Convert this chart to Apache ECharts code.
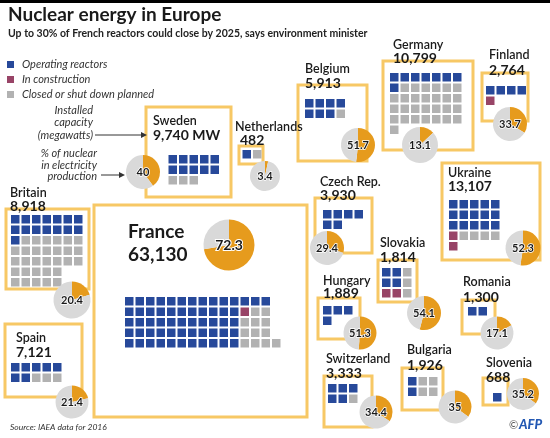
<!DOCTYPE html>
<html><head><meta charset="utf-8">
<script src="https://cdn.jsdelivr.net/npm/echarts@6/dist/echarts.min.js"></script>
<style>html,body{margin:0;padding:0;background:#fff}#c{width:550px;height:438px}</style>
</head><body><div id="c"></div>
<script>
// ---------- DATA ----------
const countries = ['Sweden','Netherlands','Belgium','Germany','Finland','Britain','France','Czech Rep.','Ukraine','Slovakia','Hungary','Romania','Spain','Switzerland','Bulgaria','Slovenia'];
const capacityMW = [9740,482,5913,10799,2764,8918,63130,3930,13107,1814,1889,1300,7121,3333,1926,688];
const nuclearShare = [40,3.4,51.7,13.1,33.7,20.4,72.3,29.4,52.3,54.1,51.3,17.1,21.4,34.4,35,35.2];
// O = operating, C = in construction, X = closed or shut down planned
const reactorGrid = [
  ['OOOOO','OOOOO','XXX'],
  ['OX'],
  ['OOOO','OOOX'],
  ['OOOOOOO','OXXXXXX','XXXXXXX','XXXXXXX','XXXXXXX','X'],
  ['OOOO','C'],
  ['OOOOOOO','OOOOOOO','OXXXXXX','XXXXXXX','XXXXXXX','XXXXX','XXXXX'],
  ['OOOOOOOOOOOOOO','OOOOOOOOOOOCXX','OOOOOOOOOOOXXX','OOOOOOOOOOOXXX','OOOOOOOOOOOXXXX'],
  ['OOOO','OO'],
  ['OOOOO','OOOOO','OOOOO','CXXXX','C'],
  ['OOX','OOX','CCX'],
  ['OOO','O'],
  ['OO'],
  ['OOOOO','OOXXX'],
  ['OOO','OOX'],
  ['OXX','OXX'],
  ['O']
];
const legendLabels = ['Operating reactors','In construction','Closed or shut down planned'];
const titleText = 'Nuclear energy in Europe';
const subtitleText = 'Up to 30% of French reactors could close by 2025, says environment minister';
const sourceText = 'Source: IAEA data for 2016';

// ---------- LAYOUT ----------
const layout = [
  {box:[146,107,85,90], name:[153,121], cap:[153,135], grid:[168.5,155], pie:[143,172,17]},
  {box:[239,146,24,18], name:[235,127], cap:[240,140], grid:[242.5,150], pie:[265,176,15]},
  {box:[298,85,69,76], name:[305,69], cap:[305,83], grid:[305,99], pie:[358,145,17]},
  {box:[383,61,90,89], name:[393,45], cap:[393,58], grid:[390,73], pie:[420,145,18]},
  {box:[482,73,46,48], name:[489,55], cap:[489,70], grid:[486,86], pie:[510,124,17]},
  {box:[6,209,83,80], name:[10,193], cap:[10,206], grid:[11,215], pie:[72,300,18.5]},
  {box:[94,205,213,212], name:[128,232], cap:[128,255], grid:[125,297], pie:[229,245,25.5], big:true},
  {box:[315,198,57,55], name:[320,182], cap:[320,195], grid:[323,210], pie:[327,248,17]},
  {box:[442,163,98,97], name:[448,173], cap:[448,186], grid:[449,200], pie:[523,248,17.5]},
  {box:[378,260,39,42], name:[380,243], cap:[380,257], grid:[382,268], pie:[424,313,17]},
  {box:[318,298,42,41], name:[323,281], cap:[323,293], grid:[323,306], pie:[360,333,16.5]},
  {box:[462,300,33,34], name:[463,282], cap:[463,297], grid:[468,307], pie:[497,333,16.5]},
  {box:[5,324,77,73], name:[16,338], cap:[16,352], grid:[11,363], pie:[72,402,16.5]},
  {box:[324,376,48,51], name:[326,359], cap:[326,373], grid:[328,384], pie:[376,412,16.5]},
  {box:[402,368,41,42], name:[407,350], cap:[407,365], grid:[408,377], pie:[455,407,16.5]},
  {box:[483,378,25,27], name:[486,363], cap:[486,377], grid:[493,393], pie:[523,394,16]}
];
const PITCH = 10.5, SQ = 8.5;
const BLUE = '#27499a', RED = '#984467', GREY = '#b2b2b2';
const ORANGE = '#e69b1d', PIEGREY = '#d9d9d9', BOXC = '#f7c865';
const FONT = 'Lato, "Noto Sans", sans-serif';

// ---------- BUILD ----------
const pts = {O:[], C:[], X:[]};
countries.forEach((c,i)=>{
  const [gx,gy] = layout[i].grid;
  reactorGrid[i].forEach((row,r)=>{
    [...row].forEach((ch,k)=>{
      if(pts[ch]) pts[ch].push([gx + k*PITCH + SQ/2, gy + r*PITCH + SQ/2]);
    });
  });
});

const fmt = n => n.toLocaleString('en-US');
const T = (text,x,y,font,opts={}) => ({type:'text', z:20, style:Object.assign({text, x, y, font, fill:'#1a1a1a', textAlign:'left', verticalAlign:'middle', textVerticalAlign:'middle'}, opts)});

const graphics = [];
graphics.push({type:'rect', z:1, shape:{x:0,y:0,width:550,height:3}, style:{fill:'#000'}});
graphics.push(T(titleText, 8, 15, 'bold 19px '+FONT));
graphics.push(T(subtitleText, 8, 34, 'bold 10.5px '+FONT, {fill:'#222'}));
[BLUE,RED,GREY].forEach((col,i)=>{
  graphics.push({type:'rect', z:1, shape:{x:7,y:61+i*15,width:7,height:7}, style:{fill:col}});
  graphics.push(T(legendLabels[i], 22, 64.5+i*15, 'italic 11px '+FONT, {fill:'#333'}));
});
// annotations
[['Installed',110],['capacity',122.5],['(megawatts)',135]].forEach(([t,y])=>graphics.push(T(t,93,y,'italic 11px '+FONT,{fill:'#333',textAlign:'right'})));
[['% of nuclear',153],['in electricity',165],['production',176.5]].forEach(([t,y])=>graphics.push(T(t,97,y,'italic 11px '+FONT,{fill:'#333',textAlign:'right'})));
graphics.push({type:'line', z:20, shape:{x1:95,y1:135,x2:142,y2:135}, style:{stroke:'#333',lineWidth:1}});
graphics.push({type:'polygon', z:20, shape:{points:[[147,135],[141,132],[141,138]]}, style:{fill:'#333'}});
graphics.push({type:'line', z:20, shape:{x1:101,y1:175,x2:120,y2:175}, style:{stroke:'#333',lineWidth:1}});
graphics.push({type:'polygon', z:20, shape:{points:[[125,175],[119,172],[119,178]]}, style:{fill:'#333'}});
// boxes and country labels
countries.forEach((c,i)=>{
  const L = layout[i];
  graphics.push({type:'rect', z:0, shape:{x:L.box[0],y:L.box[1],width:L.box[2],height:L.box[3]}, style:{fill:'none',stroke:BOXC,lineWidth:3}});
  const cap = fmt(capacityMW[i]) + (c==='Sweden' ? ' MW' : '');
  if(L.big){
    graphics.push(T(c, L.name[0], L.name[1], 'bold 19px '+FONT));
    graphics.push(T(cap, L.cap[0], L.cap[1], 'bold 19px '+FONT));
  } else {
    graphics.push(T(c, L.name[0], L.name[1], '600 12.5px '+FONT));
    graphics.push(T(cap, L.cap[0], L.cap[1], 'bold 14px '+FONT));
  }
});
graphics.push(T(sourceText, 10, 427, 'italic 8.5px '+FONT, {fill:'#333'}));
graphics.push(T('©', 509, 425, '11px '+FONT, {fill:'#555'}));
graphics.push(T('AFP', 519, 425, 'italic 900 13px '+FONT, {fill:'#2358b3'}));

const series = [
  {type:'scatter', symbol:'rect', symbolSize:SQ, data:pts.O, itemStyle:{color:BLUE,opacity:1}, z:5, silent:true, animation:false},
  {type:'scatter', symbol:'rect', symbolSize:SQ, data:pts.C, itemStyle:{color:RED,opacity:1}, z:5, silent:true, animation:false},
  {type:'scatter', symbol:'rect', symbolSize:SQ, data:pts.X, itemStyle:{color:GREY,opacity:1}, z:5, silent:true, animation:false}
];
countries.forEach((c,i)=>{
  const L = layout[i];
  series.push({
    type:'pie', z:6, silent:true, animation:false, startAngle:90, clockwise:true,
    center:[L.pie[0], L.pie[1]], radius:L.pie[2],
    label:{show:false}, labelLine:{show:false}, emphasis:{disabled:true},
    data:[
      {value:nuclearShare[i], itemStyle:{color:ORANGE},
       label:{show:true, position:'center', formatter:'{c}', fontFamily:FONT, fontWeight:'bold', fontSize:L.big?14:11, color:'#1a1a1a', textBorderColor:'#fff', textBorderWidth:L.big?2:1.5}},
      {value:+(100-nuclearShare[i]).toFixed(1), itemStyle:{color:PIEGREY}}
    ]
  });
});

const chart = echarts.init(document.getElementById('c'), null, {renderer:'canvas'});
chart.setOption({
  animation:false,
  grid:{left:0,right:0,top:0,bottom:0},
  xAxis:{type:'value', min:0, max:550, show:false},
  yAxis:{type:'value', min:0, max:438, inverse:true, show:false},
  graphic:{elements:graphics},
  series
});
</script></body></html>
